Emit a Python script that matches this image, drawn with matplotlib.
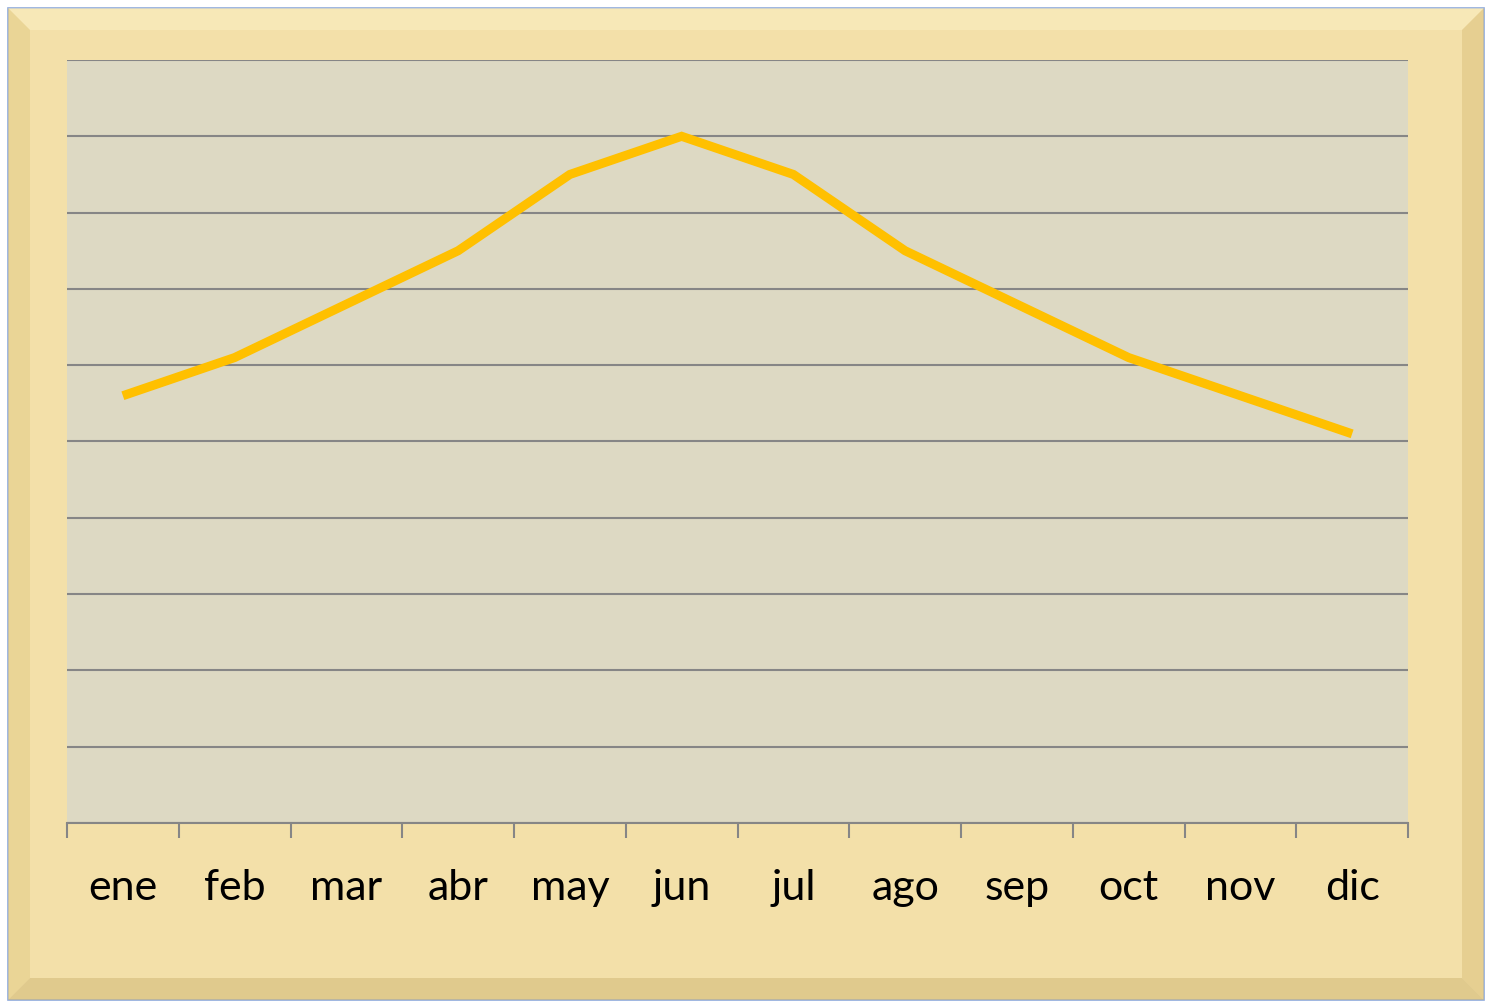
"""Monthly line chart on a papyrus-style frame."""
import matplotlib
matplotlib.use("Agg")
import matplotlib.pyplot as plt
from matplotlib.patches import Rectangle, Polygon
import numpy as np

# Data
months = ["ene", "feb", "mar", "abr", "may", "jun",
          "jul", "ago", "sep", "oct", "nov", "dic"]
values = [5.6, 6.1, 6.8, 7.5, 8.5, 9.0, 8.5, 7.5, 6.8, 6.1, 5.6, 5.1]

plt.rcParams["font.family"] = ["Lato", "DejaVu Sans"]

fig = plt.figure(figsize=(14.89, 10.05), dpi=100)
fig.patch.set_facecolor("white")

# papyrus frame with a simple bevel
W, H = 1489, 1005
def px(x, y):
    return (x / W, 1 - y / H)

frame = Rectangle(px(8, 1000), (1484 - 8) / W, (1000 - 8) / H,
                  transform=fig.transFigure, facecolor="#F3E0A9",
                  edgecolor="#8FAADC", linewidth=1.2, zorder=0)
fig.patches.append(frame)
b = 22
bevels = [
    ([(8, 8), (1484, 8), (1484 - b, 8 + b), (8 + b, 8 + b)], "#FBEFC4"),
    ([(8, 8), (8 + b, 8 + b), (8 + b, 1000 - b), (8, 1000)], "#E4CC88"),
    ([(1484, 8), (1484, 1000), (1484 - b, 1000 - b), (1484 - b, 8 + b)], "#DCC27E"),
    ([(8, 1000), (1484, 1000), (1484 - b, 1000 - b), (8 + b, 1000 - b)], "#D2B877"),
]
for pts, c in bevels:
    fig.patches.append(Polygon([px(*p) for p in pts], closed=True,
                               transform=fig.transFigure, facecolor=c,
                               edgecolor="none", alpha=0.55, zorder=0))

ax = fig.add_axes([67 / W, 1 - 823 / H, (1408 - 67) / W, (823 - 60) / H])
ax.set_zorder(2)
ax.set_facecolor("#DDD9C3")

x = np.arange(len(months))
ax.plot(x, values, color="#FFC000", linewidth=6.5, solid_capstyle="butt",
        solid_joinstyle="miter", zorder=3)

ax.set_xlim(-0.5, len(months) - 0.5)
ax.set_ylim(0, 10)
ax.set_yticks(np.arange(0, 11, 1))
ax.yaxis.grid(True, color="#868686", linewidth=1.5)
ax.tick_params(axis="y", left=False, labelleft=False)

ax.set_xticks(np.arange(-0.5, len(months), 1))
ax.set_xticklabels([])
ax.set_xticks(x, minor=True)
ax.set_xticklabels(months, minor=True, fontsize=31, color="black")
ax.tick_params(axis="x", which="major", length=11, width=1.5,
               color="#868686", direction="out")
ax.tick_params(axis="x", which="minor", length=0, pad=33)

for s in ["top", "left", "right"]:
    ax.spines[s].set_visible(False)
ax.spines["bottom"].set_color("#868686")
ax.spines["bottom"].set_linewidth(1.5)

fig.savefig("out.png", dpi=100)
